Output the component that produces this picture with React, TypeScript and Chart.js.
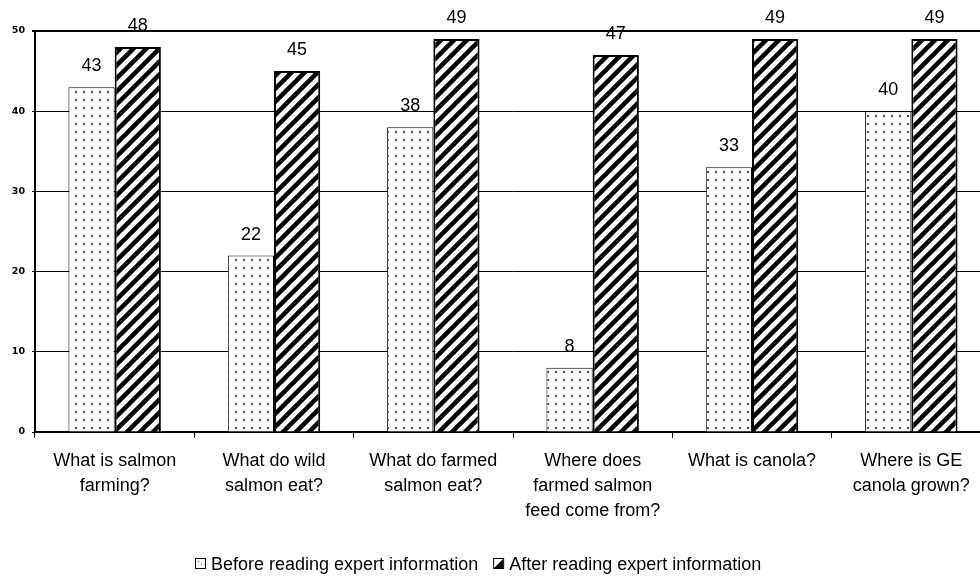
import { useEffect, useRef } from "react";
import { Chart, registerables } from "chart.js";

Chart.register(...registerables);

// Survey questions (x categories), split into display lines
const categories: string[][] = [
  ["What is salmon", "farming?"],
  ["What do wild", "salmon eat?"],
  ["What do farmed", "salmon eat?"],
  ["Where does", "farmed salmon", "feed come from?"],
  ["What is canola?"],
  ["Where is GE", "canola grown?"],
];

const beforeValues = [43, 22, 38, 8, 33, 40];
const afterValues = [48, 45, 49, 47, 49, 49];

const seriesLabels = [
  "Before reading expert information",
  "After reading expert information",
];

const yMin = 0;
const yMax = 50;
const yStep = 10;

const FONT = "Arial, 'Liberation Sans', sans-serif";

// Sparse dot fill for the "before" bars
function dotPattern(): CanvasPattern | string {
  const c = document.createElement("canvas");
  c.width = 8;
  c.height = 8;
  const g = c.getContext("2d");
  if (!g) return "#fff";
  g.fillStyle = "#fff";
  g.fillRect(0, 0, 8, 8);
  g.fillStyle = "#222";
  g.beginPath();
  g.arc(4, 4, 1.05, 0, Math.PI * 2);
  g.fill();
  return g.createPattern(c, "repeat") || "#fff";
}

// Wide diagonal hatch for the "after" bars
function hatchPattern(): CanvasPattern | string {
  const s = 13;
  const c = document.createElement("canvas");
  c.width = s;
  c.height = s;
  const g = c.getContext("2d");
  if (!g) return "#000";
  g.fillStyle = "#fff";
  g.fillRect(0, 0, s, s);
  g.strokeStyle = "#000";
  g.lineWidth = 4.5;
  g.lineCap = "square";
  for (const o of [-s, 0, s]) {
    g.beginPath();
    g.moveTo(o - 2, s + 2);
    g.lineTo(o + s + 2, -2);
    g.stroke();
  }
  return g.createPattern(c, "repeat") || "#000";
}

// Value printed above each bar
const valueLabels = {
  id: "valueLabels",
  afterDatasetsDraw(chart: any) {
    const ctx = chart.ctx as CanvasRenderingContext2D;
    ctx.save();
    ctx.font = `18px ${FONT}`;
    ctx.fillStyle = "#000";
    ctx.textAlign = "center";
    ctx.textBaseline = "alphabetic";
    chart.data.datasets.forEach((ds: any, i: number) => {
      const meta = chart.getDatasetMeta(i);
      meta.data.forEach((bar: any, j: number) => {
        ctx.fillText(String(ds.data[j]), bar.x, bar.y - 16);
      });
    });
    ctx.restore();
  },
};

// Legend row under the axis labels
const bottomLegend = {
  id: "bottomLegend",
  afterDraw(chart: any) {
    const ctx = chart.ctx as CanvasRenderingContext2D;
    ctx.save();
    ctx.font = `18px ${FONT}`;
    ctx.textAlign = "left";
    ctx.textBaseline = "alphabetic";
    const box = 10;
    const gapText = 6;
    const gapItem = 15;
    const centerX = 478;
    const baseline = 570;
    const widths = chart.data.datasets.map(
      (ds: any) => ctx.measureText(ds.label).width
    );
    const total =
      widths.reduce((s: number, w: number) => s + box + gapText + w, 0) +
      gapItem * (widths.length - 1);
    let x = Math.round(centerX - total / 2);
    const top = baseline - 12;
    chart.data.datasets.forEach((ds: any, i: number) => {
      ctx.fillStyle = "#fff";
      ctx.fillRect(x, top, box, box);
      if (i === 0) {
        ctx.fillStyle = "#333";
        ctx.fillRect(x + 3, top + 3, 1, 1);
        ctx.fillRect(x + 6, top + 6, 1, 1);
      } else {
        ctx.fillStyle = "#000";
        ctx.beginPath();
        ctx.moveTo(x + box, top + 1);
        ctx.lineTo(x + box, top + box);
        ctx.lineTo(x + 1, top + box);
        ctx.closePath();
        ctx.fill();
      }
      ctx.strokeStyle = "#000";
      ctx.lineWidth = 1;
      ctx.strokeRect(x + 0.5, top + 0.5, box, box);
      ctx.fillStyle = "#000";
      ctx.fillText(ds.label, x + box + gapText, baseline);
      x += box + gapText + widths[i] + gapItem;
    });
    ctx.restore();
  },
};

export default function App() {
  const ref = useRef<HTMLCanvasElement>(null);

  useEffect(() => {
    const canvas = ref.current;
    if (!canvas) return;
    const chart = new Chart(canvas, {
      type: "bar",
      data: {
        labels: categories,
        datasets: [
          {
            label: seriesLabels[0],
            data: beforeValues,
            backgroundColor: dotPattern() as any,
            borderColor: "#000",
            borderWidth: 1,
          },
          {
            label: seriesLabels[1],
            data: afterValues,
            backgroundColor: hatchPattern() as any,
            borderColor: "#000",
            borderWidth: 2,
          },
        ],
      },
      options: {
        responsive: false,
        animation: false,
        layout: { padding: { top: 31, right: 9, bottom: 0, left: 0 } },
        plugins: {
          legend: { display: false },
          tooltip: { enabled: false },
        },
        datasets: {
          bar: { barPercentage: 1, categoryPercentage: 0.58 },
        },
        scales: {
          x: {
            grid: {
              display: true,
              drawOnChartArea: false,
              drawTicks: true,
              tickLength: 6,
              color: "#000",
              lineWidth: 1,
              offset: true,
            },
            border: { display: true, color: "#000", width: 2 },
            ticks: {
              color: "#000",
              font: { family: FONT, size: 18, lineHeight: 25 / 18 },
              padding: 11,
              maxRotation: 0,
              autoSkip: false,
            },
            afterFit: (s: any) => {
              s.height = 144;
            },
          },
          y: {
            min: yMin,
            max: yMax,
            ticks: {
              stepSize: yStep,
              color: "#000",
              font: { family: "'DejaVu Sans'", size: 9.5, weight: "bold" },
              padding: 7,
            },
            grid: {
              color: "#000",
              lineWidth: (c: any) => (c.tick && c.tick.value === yMax ? 2 : 1),
              tickLength: 3,
            },
            border: { display: true, color: "#000", width: 2 },
            afterFit: (s: any) => {
              s.width = 35;
            },
          },
        },
      },
      plugins: [valueLabels, bottomLegend],
    });
    return () => chart.destroy();
  }, []);

  return (
    <div
      style={{
        position: "fixed",
        left: 0,
        top: 0,
        width: 980,
        height: 576,
        overflow: "hidden",
        background: "#fff",
      }}
    >
      <canvas ref={ref} width={1000} height={576} style={{ display: "block" }} />
    </div>
  );
}
